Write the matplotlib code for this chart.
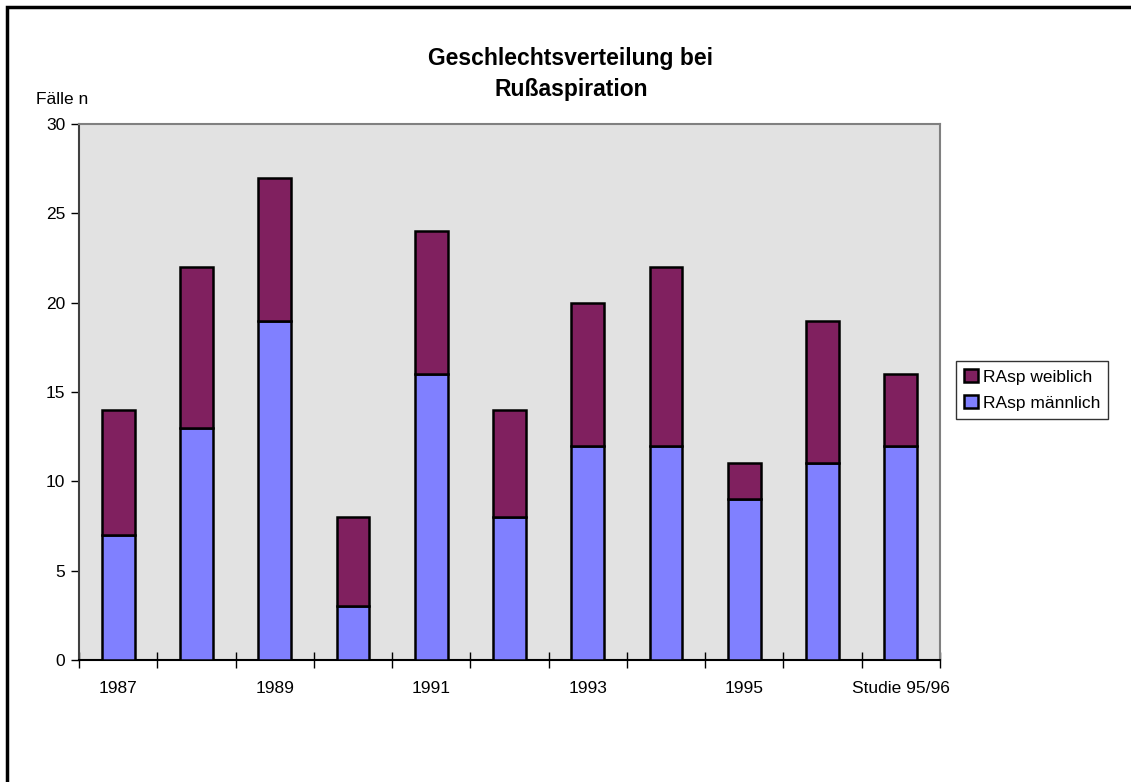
import matplotlib
matplotlib.use("Agg")
import matplotlib.pyplot as plt
from matplotlib.patches import Rectangle
import numpy as np

categories = ["1987", "1988", "1989", "1990", "1991", "1992", "1993", "1994", "1995", "1996", "Studie 95/96"]
tick_labels = ["1987", "", "1989", "", "1991", "", "1993", "", "1995", "", "Studie 95/96"]
male = [7, 13, 19, 3, 16, 8, 12, 12, 9, 11, 12]
female = [7, 9, 8, 5, 8, 6, 8, 10, 2, 8, 4]

plt.rcParams['font.family'] = ['Liberation Sans', 'DejaVu Sans']

W, H = 1131, 782
fig = plt.figure(figsize=(W/100, H/100), dpi=100)
fig.patch.set_facecolor("white")

# outer frame
fig.add_artist(Rectangle((7/W, -0.1), 1.2, (H-7)/H + 0.1, transform=fig.transFigure,
                         fill=False, edgecolor="black", linewidth=2.5))

ax = fig.add_axes([79/W, 1-660/H, 861/W, 536/H])
ax.set_facecolor("#E2E2E2")
x = np.arange(len(categories))
bw = 0.42
ax.bar(x, male, bw, color="#8080FF", edgecolor="black", linewidth=1.8, label="RAsp männlich", zorder=3)
ax.bar(x, female, bw, bottom=male, color="#80205F", edgecolor="black", linewidth=1.8, label="RAsp weiblich", zorder=3)

ax.set_xlim(-0.5, len(categories)-0.5)
ax.set_ylim(0, 30)
ax.set_yticks([0, 5, 10, 15, 20, 25, 30])
ax.tick_params(axis='y', direction='out', length=6, width=1, labelsize=12.5, pad=4, color="black")
ax.set_xticks(x)
ax.set_xticklabels(tick_labels)
ax.tick_params(axis='x', length=0, labelsize=12.5, pad=15)
ax.set_xticks(np.arange(-0.5, len(categories)), minor=True)
ax.tick_params(axis='x', which='minor', direction='inout', length=11, width=1, color="black")

for s in ["top", "right"]:
    ax.spines[s].set_color("#808080")
    ax.spines[s].set_linewidth(1.5)
ax.spines["left"].set_color("#404040")
ax.spines["left"].set_linewidth(1.5)
ax.spines["bottom"].set_color("black")
ax.spines["bottom"].set_linewidth(1.5)

fig.text(571/W, 1-74/H, "Geschlechtsverteilung bei\nRußaspiration", ha="center", va="center",
         fontsize=16.5, fontweight="bold", linespacing=1.45)
fig.text(36/W, 1-100/H, "Fälle n", ha="left", va="center", fontsize=12.5)

h, l = ax.get_legend_handles_labels()
leg = fig.legend(h[::-1], l[::-1], loc="center", bbox_to_anchor=(1032/W, 1-390/H),
                 fontsize=12.5, frameon=True, fancybox=False, edgecolor="black",
                 handlelength=0.8, handleheight=0.8, handletextpad=0.3, borderpad=0.45,
                 labelspacing=0.6, borderaxespad=0)
leg.get_frame().set_linewidth(1)
for p in leg.get_patches():
    p.set_linewidth(1.8)

fig.savefig("out.png", dpi=100)
